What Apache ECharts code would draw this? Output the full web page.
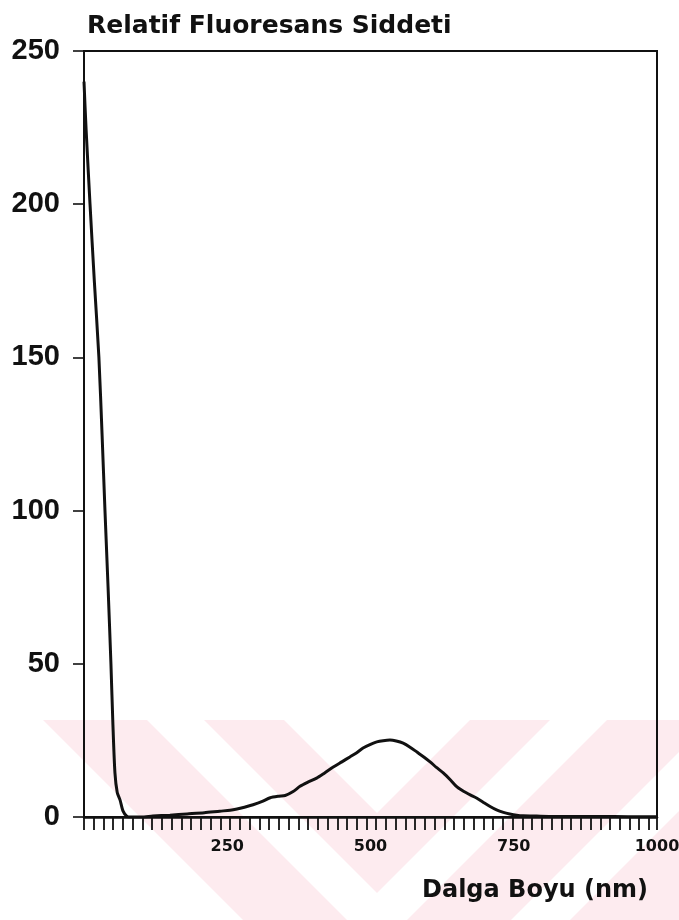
<!DOCTYPE html>
<html>
<head>
<meta charset="utf-8">
<script src="https://cdn.jsdelivr.net/npm/echarts@6/dist/echarts.min.js"></script>
<style>
  html, body { margin: 0; padding: 0; background: #ffffff; }
  #chart { width: 679px; height: 920px; }
</style>
</head>
<body>
<div id="chart"></div>
<script>
// Emission spectrum: wavelength (nm) and relative fluorescence intensity
const wavelength = [
  0, 3.5, 10.5, 18, 26, 31.5, 36.6, 42, 47, 50.5,
  54, 58, 63, 68, 74.5, 80, 100, 120, 150, 180,
  210, 237, 255, 267, 280, 295, 310, 325, 340, 351,
  365, 377, 390, 406, 420, 435, 450, 464, 476, 487,
  500, 511, 522, 534, 545, 557, 569, 581, 593, 604,
  615, 627, 640, 651, 663, 674, 685, 696, 708, 720,
  732, 743, 755, 766, 790, 820, 860, 900, 950, 1000
];
const intensity = [
  240, 225, 200, 175, 150, 125, 100, 75, 50, 30,
  14.4, 8, 5.5, 2, 0.3, 0, 0, 0.3, 0.6, 1.0,
  1.4, 1.9, 2.2, 2.6, 3.2, 4.0, 5.0, 6.3, 6.8, 7.0,
  8.3, 10, 11.3, 12.7, 14.4, 16.3, 18, 19.6, 21, 22.5,
  23.7, 24.5, 24.9, 25.1, 24.8, 24.1, 22.8, 21.2, 19.6, 18,
  16.2, 14.4, 12, 9.8, 8.3, 7.2, 6.2, 4.9, 3.5, 2.3,
  1.5, 1, 0.6, 0.4, 0.3, 0.2, 0.2, 0.2, 0.1, 0.1
];

// Axis ticks and labels
const yTicks = [0, 50, 100, 150, 200, 250];
const xTickLabels = [250, 500, 750, 1000];
const xMinorStep = 17;

const titleText = 'Relatif Fluoresans Siddeti';
const xAxisTitle = 'Dalga Boyu (nm)';

const ink = '#111111';
const wash = '#fdebef';

// Pale chevron backdrop in the lower part of the page
function chevronBand(cx, topY, apexY, u1, u2) {
  const h = apexY - topY;
  return {
    type: 'polygon',
    z: -100,
    silent: true,
    shape: {
      points: [
        [cx - (u2 + h), topY], [cx - (u1 + h), topY], [cx, apexY + u1],
        [cx + (u1 + h), topY], [cx + (u2 + h), topY], [cx, apexY + u2]
      ]
    },
    style: { fill: wash }
  };
}
function halfChevron(cx, topY, apexY, u1, u2) {
  const h = apexY - topY;
  return {
    type: 'polygon',
    z: -100,
    silent: true,
    shape: {
      points: [[cx, apexY + u1], [cx + (u1 + h), topY], [cx + (u2 + h), topY], [cx, apexY + u2]]
    },
    style: { fill: wash }
  };
}

const chart = echarts.init(document.getElementById('chart'), null, { renderer: 'canvas' });

const seriesData = wavelength.map((w, i) => [w, intensity[i]]);

chart.setOption({
  backgroundColor: '#ffffff',
  animation: false,
  title: [
    {
      text: titleText,
      left: 82,
      top: 9,
      textStyle: { fontFamily: 'DejaVu Sans', fontWeight: 'bold', fontSize: 25, color: ink }
    },
    {
      text: xAxisTitle,
      right: 26,
      top: 874,
      textStyle: { fontFamily: 'DejaVu Sans', fontWeight: 'bold', fontSize: 24, color: ink }
    }
  ],
  graphic: [
    chevronBand(377, 720, 813, 0, 80),
    chevronBand(377, 720, 813, 137, 241),
    halfChevron(377, 720, 813, 300, 700)
  ],
  grid: {
    left: 84,
    right: 22,
    top: 51,
    bottom: 103,
    outerBoundsMode: 'none',
    containLabel: false,
    show: true,
    borderColor: ink,
    borderWidth: 2,
    backgroundColor: 'transparent'
  },
  xAxis: [
    {
      type: 'value',
      min: 0,
      max: 1000,
      interval: xMinorStep,
      position: 'bottom',
      axisLine: { show: true, lineStyle: { color: ink, width: 2.5 } },
      axisTick: { show: true, inside: false, length: 13, lineStyle: { color: ink, width: 1.8 } },
      axisLabel: { show: false },
      splitLine: { show: false }
    },
    {
      type: 'value',
      min: 0,
      max: 1000,
      interval: 250,
      position: 'bottom',
      axisLine: { show: false },
      axisTick: { show: false },
      splitLine: { show: false },
      axisLabel: {
        show: true,
        margin: 22,
        color: ink,
        fontFamily: 'DejaVu Sans',
        fontWeight: 'bold',
        fontSize: 16,
        formatter: v => (xTickLabels.indexOf(v) >= 0 ? String(v) : '')
      }
    }
  ],
  yAxis: {
    type: 'value',
    min: yTicks[0],
    max: yTicks[yTicks.length - 1],
    interval: 50,
    axisLine: { show: true, lineStyle: { color: ink, width: 2 } },
    axisTick: { show: true, inside: false, length: 11, lineStyle: { color: ink, width: 1.6 } },
    splitLine: { show: false },
    axisLabel: {
      show: true,
      margin: 24,
      color: ink,
      fontFamily: 'Liberation Sans',
      fontWeight: 'bold',
      fontSize: 29,
      formatter: v => (yTicks.indexOf(v) >= 0 ? String(v) : '')
    }
  },
  series: [
    {
      type: 'line',
      xAxisIndex: 0,
      data: seriesData,
      showSymbol: false,
      smooth: 0.25,
      lineStyle: { color: ink, width: 3 },
      z: 5
    }
  ]
});
</script>
</body>
</html>
